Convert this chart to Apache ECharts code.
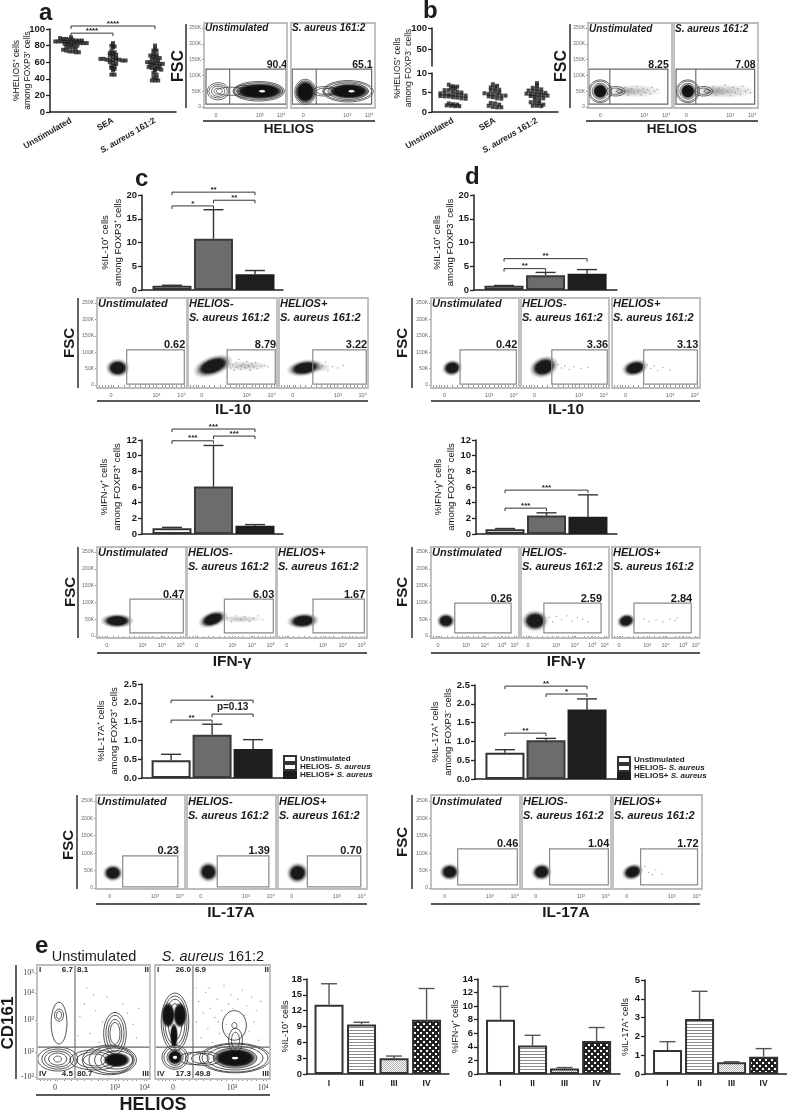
<!DOCTYPE html>
<html><head><meta charset="utf-8">
<style>html,body{margin:0;padding:0;background:#fff}#c{width:787px;height:1112px}</style>
<script src="https://cdn.jsdelivr.net/npm/echarts@6/dist/echarts.min.js"></script>
</head><body><div id="c"></div>
<script>
// ---------- swarm panel values ----------
const swarmCats = ['Unstimulated','SEA','S. aureus 161:2'];
const helPosUnstim = [90,89,88,88,87,87,86,86,86,85,85,85,85,84,84,84,84,83,83,83,82,82,81,81,80,78,78,78,76,75,74,73,73,72,72];
const helPosSEA = [83,80,79,78,74,72,71,70,69,68,67,65,64,64,63,63,63,63,63,62,62,60,59,58,55,55,53,52,50,45,45];
const helPosSA = [80,76,74,74,70,69,68,67,66,65,64,63,62,60,60,59,59,58,58,57,57,55,55,54,53,52,52,51,50,47,45,42,41,38,38,38];
const helNegUnstim = [7,6.6,6.5,6.3,6.1,5.6,5.6,5.4,5.2,5,4.8,4.7,4.5,4.5,4.4,4.3,4.2,4.1,4,4,3.8,3.7,3.5,3.4,2.2,2,1.9,1.7,1.6,1.5,1.5];
const helNegSEA = [7.1,6.7,6.3,6.2,5.7,5.5,5.4,5,4.8,4.6,4.5,4.4,4.2,4.2,4,3.8,3.5,3.4,2.3,2.2,1.9,1.6,1.3,1.2,1.2];
const helNegSA = [7.4,6.8,6.2,6,5.8,5.5,5.4,5.2,5,4.9,4.7,4.6,4.5,4.4,4.3,4.2,4.1,3.9,3.7,3.5,3.2,2.8,2.5,2.4,2.2,1.9,1.6,1.6,1.5];
// ---------- bar panel values ----------
const condNames = ['Unstimulated','HELIOS- S. aureus','HELIOS+ S. aureus'];
const il10Pos = [0.9,10.8,3.3],  il10PosErr = [1.0,16.9,4.1];
const il10Neg = [0.9,3.1,3.4],   il10NegErr = [0.95,3.7,4.3];
const ifnPos = [0.75,6.05,1.05], ifnPosErr = [0.85,11.3,1.2];
const ifnNeg = [0.6,2.35,2.2],   ifnNegErr = [0.7,2.7,5.0];
const il17Pos = [0.47,1.15,0.77],il17PosErr = [0.63,1.43,1.02];
const il17Neg = [0.7,1.03,1.85], il17NegErr = [0.78,1.08,2.13];
const quadCats = ['I','II','III','IV'];
const quadIl10 = [13.1,9.4,3.0,10.3],  quadIl10Err = [17.1,9.8,3.4,16.2];
const quadIfn = [8,4.2,0.8,4.85],      quadIfnErr = [12.9,5.7,0.95,6.85];
const quadIl17 = [1.27,2.93,0.62,0.92],quadIl17Err = [1.72,4.4,0.65,1.35];
// brackets: from category, to category, height, label
const brIl10Pos = [[1,3,20.6,'**'],[1,2,17.7,'*'],[2,3,18.9,'**']];
const brIl10Neg = [[1,3,6.6,'**'],[1,2,4.5,'**']];
const brIfnPos = [[1,3,13.4,'***'],[1,2,11.9,'***'],[2,3,12.5,'***']];
const brIfnNeg = [[1,3,5.6,'***'],[1,2,3.3,'***']];
const brIl17Pos = [[1,3,2.07,'*'],[1,2,1.54,'**'],[2,3,1.70,'p=0.13']];
const brIl17Neg = [[1,3,2.47,'**'],[2,3,2.26,'*'],[1,2,1.22,'**']];
// ---------- flow plot density outlines: x, y, rx, ry, tilt, kind ----------
// kinds: 0 contour, 1 dense with halo, 2 sparse events, 3 empty core, 4 dense
const flowA1=[[17,50,13,27,0,0],[17,50,11,21,0,0],[17,50,8,16,0,0],[17,50,5,9.5,0,0],[32,50,17,13,0,0],[47,50,11,19,0,0],[47,50,7,13,0,0],[47,50,3.5,6,0,0],[66,50,31,31,0,0],[66,50,29,27,0,0],[67,50,24,21,0,4],[70,50,3.6,3,0,3]];
const flowA2=[[17,48,12.5,40,0,0],[17,48,11,35,0,0],[17,48,9.5,29,0,4],[40,50,15,15,0,0],[40,50,9.5,10,0,0],[48,50,10,10,0,0],[68,50,30,34,0,0],[68,50,28,30,0,0],[68,50,24,26,0,0],[69,50,20,20,0,4],[72,50,3.5,3,0,3]];
const flowB1=[[56,50,28,18,0,2],[44,50,12,13,0,2],[14.5,50,13.7,36,0,0],[14.5,50,12,32,0,0],[14.5,50,9.5,25,0,0],[14.5,50,7,19,0,4],[33,50,11,15,0,0],[33,50,7,10,0,0],[38,50,4,5,0,0]];
const flowB2=[[60,50,32,20,0,2],[48,50,14,15,0,2],[16.5,50,13.7,36,0,0],[16.5,50,12,32,0,0],[16.5,50,9.5,25,0,0],[16.5,50,7,19,0,4],[35,50,11,15,0,0],[35,50,7,10,0,0],[40,50,4,5,0,0]];
const flowIl10PosA=[[23,52,7.5,16,0,1]];
const flowIl10PosB=[[64,58,24,13,0,2],[28,58,13,17,-20,1]];
const flowIl10PosC=[[46,54,10,12,0,2],[29,52,11.5,14,-10,1]];
const flowIl10NegA=[[24,52,6.5,14,-10,1]];
const flowIl10NegB=[[26,55,9.5,18,-20,1]];
const flowIl10NegC=[[26,52,8.5,14,-15,1]];
const flowIfnPosA=[[22.5,45,10.5,12,0,1]];
const flowIfnPosB=[[60,50,22,9,0,2],[29,50,9.5,13,-20,1]];
const flowIfnPosC=[[29,45,10,13,-5,1]];
const flowIfnNegA=[[17,45,6,13,0,1]];
const flowIfnNegB=[[16,45,8.5,18,0,1]];
const flowIfnNegC=[[16,45,6,12,-15,1]];
const flowIl17PosA=[[19,43,6.5,14,0,1]];
const flowIl17PosB=[[24,46,6.5,17,-30,1]];
const flowIl17PosC=[[22,43,7,17,-20,1]];
const flowIl17NegA=[[21,46,6.5,14,0,1]];
const flowIl17NegB=[[22,46,6.5,14,-10,1]];
const flowIl17NegC=[[22,46,7,13,-20,1]];
const flowE1=[[18.3,17.5,17.7,10.5,0,0],[18.3,17.5,14,8.8,0,0],[18.3,17.5,11.5,7,0,0],[18.3,17.5,8,5.3,0,0],[18.3,17.5,3.5,2.6,0,0],[51,16.7,22,8.8,0,0],[51,16.7,16,7,0,0],[51,16.7,10,5.3,0,0],[64,16.7,24,13,0,0],[66,16.7,20,12,0,0],[68,16.7,17,10.5,0,0],[70.5,16.7,14,8,0,0],[70.5,16.7,9.7,5.3,0,4],[19.5,49,7,18.4,0,0],[19.5,56,4,5.3,0,0],[19.5,56,2.2,3.5,0,0],[69,40,10,18.4,0,0],[69,40,8,15.8,0,0],[69,40,6,12.3,0,0],[69,40,4.4,9.6,0,0]];
const flowE2=[[17.4,50,12,25.4,0,0],[17.4,50,10.4,22.8,0,0],[17.4,50,8.7,20,0,0],[17.4,50,6,16,0,0],[11.5,56,4.6,9,0,4],[21.7,56,4.6,9,0,4],[16.5,38,2.6,9,0,4],[17.4,19,11.3,10.5,0,0],[17.4,19,9.6,8.8,0,0],[17.4,19,7,7,0,0],[17.4,19,5.2,5.3,0,4],[17.4,19,1.7,1.3,0,3],[34,18,13,5.3,0,0],[42,18,15.6,6,0,0],[42,18,10.4,4.4,0,0],[69,47,10.4,13,0,0],[69,47,2.2,2.6,0,0],[70,34,6,10.5,0,0],[70,34,3.5,7,0,0],[69.6,18.4,31,13,0,0],[69.6,18.4,28.7,12.3,0,0],[69.6,18.4,24.3,10.5,0,0],[69.6,18.4,19,8.8,0,0],[69.6,18.4,15.6,7,0,4],[69.6,18.4,2.6,1,0,3]];
// sparse events outside the dense populations: x, y
const dotsB1=[[44,62],[48,38],[52,58],[55,44],[58,66],[60,50],[63,38],[66,60],[68,46],[71,56],[74,42],[76,62],[79,50],[82,56]];
const dotsB2=[[46,64],[50,36],[54,60],[58,42],[61,70],[64,50],[67,36],[70,62],[73,46],[76,58],[79,40],[82,66],[85,50],[88,56],[91,46]];
const dotsIl10PosB=[[45,70],[48,52],[50,62],[52,45],[54,68],[55,55],[57,78],[59,48],[60,60],[62,66],[64,52],[66,72],[68,58],[70,45],[72,64],[74,55],[76,68],[78,50],[82,58],[86,60],[90,56]];
const dotsIl10PosC=[[43,66],[46,48],[49,58],[52,70],[55,44],[60,56],[66,52],[72,60]];
const dotsIl10NegB=[[42,62],[46,52],[50,58],[55,48],[60,56],[68,50],[76,54]];
const dotsIl10NegC=[[40,62],[44,50],[48,58],[52,44],[58,54],[66,46]];
const dotsIfnPosB=[[45,55],[50,42],[55,60],[60,48],[65,58],[70,44],[75,52],[80,60],[85,48]];
const dotsIfnNegB=[[32,55],[36,42],[40,58],[46,48],[52,60],[58,44],[64,55],[70,50],[76,42]];
const dotsIfnNegC=[[36,50],[42,44],[50,48],[58,42],[66,50],[72,46],[74,54]];
const dotsIl17NegC=[[36,62],[40,45],[44,38],[48,52],[55,40]];
const dotsE1=[[38,55],[42,66],[47,40],[52,60],[55,32],[58,50],[62,72],[44,80],[80,58],[85,48],[90,62],[36,38],[50,74],[88,36],[76,66]];
const dotsE2=[[36,50],[38,68],[40,36],[42,58],[44,76],[46,44],[48,62],[50,32],[52,54],[54,70],[56,40],[58,60],[60,82],[62,48],[64,66],[66,74],[68,62],[72,70],[76,78],[78,56],[80,64],[82,42],[84,72],[86,50],[88,60],[90,34],[47,80],[55,50],[92,68],[36,80]];
// axis tick positions and their labels
const ticks4 = [[14.5,'0'],[67,'10³'],[93,'10⁴']];
const ticksRow4 = [[15.5,'0'],[66,'10³'],[94,'10⁴']];
const ticksIfnPos = [[11,'0'],[51,'10³'],[73,'10⁴'],[94,'10⁵']];
const ticksIfnNeg = [[8,'0'],[40,'10³'],[61,'10⁴'],[81,'10⁵'],[95,'10⁶']];
const minorTicks = [3,6,9,12,18,24,30,36,42,48,54,58,62,72,76,80,84,88,97];
const fscTicks = [0,50,100,150,200,250];
const cdTicks = [[1.75,'-10²'],[23.7,'10²'],[51.8,'10³'],[75.4,'10⁴'],[93,'10⁵']];
const eTicks1 = [[16,'0'],[69,'10³'],[95,'10⁴']];
const eTicks2 = [[15.7,'0'],[67,'10³'],[94,'10⁴']];

// ---------- helpers ----------
const FONT = '"Liberation Sans", Arial, sans-serif';
const INK = '#222';
const option = {animation:false, backgroundColor:'#fff', textStyle:{fontFamily:FONT}, grid:[], xAxis:[], yAxis:[], series:[], legend:[], graphic:{elements:[]}};
const G = option.graphic.elements;
function T(text,x,y,o){o=o||{};
  G.push({type:'text',x:x,y:y,rotation:o.rot||0,silent:true,z:20,style:{text:text,fill:o.color||'#1a1a1a',fontFamily:o.family||FONT,fontSize:o.size||10,fontWeight:o.bold===false?'normal':'bold',fontStyle:o.italic?'italic':'normal',align:o.align||'left',verticalAlign:'middle',lineHeight:o.lh,rich:o.rich}});}
function L(x1,y1,x2,y2,w){G.push({type:'line',silent:true,z:20,shape:{x1,y1,x2,y2},style:{stroke:'#222',lineWidth:w||1.3}});}
function addGrid(box,xa,ya){const i=option.grid.length;
  option.grid.push({left:box[0],top:box[1],width:box[2]-box[0],height:box[3]-box[1],containLabel:false,show:false});
  option.xAxis.push(Object.assign({gridIndex:i,type:'value',splitLine:{show:false}},xa));
  option.yAxis.push(Object.assign({gridIndex:i,type:'value',splitLine:{show:false}},ya));
  return i;}
const axisLine={show:true,onZero:false,lineStyle:{color:INK,width:1.5}};
const tickOut={show:true,length:4,lineStyle:{color:INK,width:1.3}};
function catText(n){return n.replace('S. aureus','{i|S. aureus}');}
const italicRich={i:{fontStyle:'italic',fontWeight:'bold',fontSize:8.5,fontFamily:FONT,color:'#222'}};

function swarm(values,center,step,bin){
  const rows={};values.forEach(v=>{const k=Math.round(v/bin);(rows[k]=rows[k]||[]).push(v);});
  const out=[];Object.keys(rows).forEach(k=>{const r=rows[k];r.forEach((v,i)=>{out.push([center+(i-(r.length-1)/2)*step,v]);});});
  return out;}
function swarmSeries(i,groups,bin,step){
  groups.forEach((g,k)=>option.series.push({type:'scatter',xAxisIndex:i,yAxisIndex:i,symbol:'rect',symbolSize:4,itemStyle:{color:'#1a1a1a'},data:swarm(g,k+1,step,bin),silent:true}));}

function errorSeries(i,xs,vals,errs,cap,color,w){
  option.series.push({type:'custom',xAxisIndex:i,yAxisIndex:i,silent:true,z:1,data:xs.map((x,k)=>[x,vals[k],errs[k]]),
    renderItem:(p,api)=>{const a=api.coord([api.value(0),api.value(1)]),b=api.coord([api.value(0),api.value(2)]);
      const st={stroke:color,lineWidth:w,fill:null};
      return {type:'group',children:[{type:'line',shape:{x1:a[0],y1:a[1],x2:b[0],y2:b[1]},style:st},{type:'line',shape:{x1:b[0]-cap/2,y1:b[1],x2:b[0]+cap/2,y2:b[1]},style:st}]};}});}
function bracketSeries(i,list){
  option.series.push({type:'custom',xAxisIndex:i,yAxisIndex:i,silent:true,z:3,data:list.map(b=>[b[0],b[2],b[1]]),
    renderItem:(p,api)=>{const a=api.coord([api.value(0),api.value(1)]),b=api.coord([api.value(2),api.value(1)]);
      const s=list[p.dataIndex][3],st={stroke:'#333',lineWidth:1,fill:null};const big=s.length>4;
      return {type:'group',children:[
        {type:'polyline',shape:{points:[[a[0],a[1]+3],[a[0],a[1]],[b[0],b[1]],[b[0],b[1]+3]]},style:st},
        {type:'text',style:{x:(a[0]+b[0])/2,y:big?a[1]-7:a[1]-2.5,text:s,align:'center',verticalAlign:'middle',fill:'#222',font:big?'bold 10px "Liberation Sans"':'bold 8px "Liberation Sans"'}}]};}});}

const BAR_WHITE={color:'#fff',borderColor:'#333',borderWidth:2};
const BAR_GREY={color:'#6c6c6c',borderColor:'#3a3a3a',borderWidth:2};
const BAR_BLACK={color:'#1f1d1e',borderColor:'#1f1d1e',borderWidth:2};
function condBars(c){
  const i=addGrid(c.box,{min:c.xr[0],max:c.xr[1],axisLine:axisLine,axisTick:{show:false},axisLabel:{show:false}},
    {min:0,max:c.ymax,interval:c.interval,axisLine:axisLine,axisTick:tickOut,
     axisLabel:{fontSize:9.5,fontWeight:'bold',color:'#1a1a1a',margin:5,formatter:c.fmt},
     name:c.name,nameLocation:'middle',nameGap:c.gap,nameRotate:90,nameMoveOverlap:false,nameTextStyle:{fontSize:9.5,color:'#111',lineHeight:13,fontWeight:'normal'}});
  const styles=[BAR_WHITE,BAR_GREY,BAR_BLACK];
  condNames.forEach((n,k)=>option.series.push({type:'bar',name:n,xAxisIndex:i,yAxisIndex:i,barWidth:39,barGap:'-100%',silent:true,itemStyle:styles[k],z:2,data:[[k+1,c.vals[k]]]}));
  errorSeries(i,[1,2,3],c.vals,c.errs,20,'#333',1.4);
  bracketSeries(i,c.br);
  if(c.legend){option.legend.push({left:c.legend[0],top:c.legend[1],orient:'vertical',icon:'rect',itemWidth:12,itemHeight:6,itemGap:0,padding:0,selectedMode:false,
    data:[{name:condNames[0],itemStyle:BAR_WHITE},{name:condNames[1],itemStyle:BAR_WHITE},{name:condNames[2],itemStyle:BAR_BLACK}],
    formatter:catText,textStyle:{fontSize:8,fontWeight:'bold',color:'#222',lineHeight:8,padding:[0,0,0,-1],rich:{i:{fontSize:8,fontStyle:'italic',fontWeight:'bold',color:'#222',fontFamily:FONT}}}});}
}
function pattern(size,draw){const cv=document.createElement('canvas');cv.width=cv.height=size;draw(cv.getContext('2d'));return {image:cv,repeat:'repeat'};}
const FILL_LINES=pattern(3,g=>{g.fillStyle='#fff';g.fillRect(0,0,3,3);g.fillStyle='#8d8d8d';g.fillRect(0,1,3,1);});
const FILL_FINE=pattern(2,g=>{g.fillStyle='#fff';g.fillRect(0,0,2,2);g.fillStyle='#b0b0b0';g.fillRect(0,0,1,1);g.fillRect(1,1,1,1);});
const FILL_CHECK=pattern(6,g=>{g.fillStyle='#222';g.fillRect(0,0,6,6);g.fillStyle='#fff';g.fillRect(0,0,2,2);g.fillRect(3,3,2,2);});
function quadBars(c){
  const pos=[1,2,3,4];
  const i=addGrid(c.box,{min:c.xr[0],max:c.xr[1],axisLine:axisLine,axisTick:{show:false},
      axisLabel:{customValues:pos,formatter:v=>quadCats[v-1],fontSize:8.5,fontWeight:'bold',color:'#222',margin:5}},
    {min:0,max:c.ymax,interval:c.interval,axisLine:axisLine,axisTick:tickOut,axisLabel:{fontSize:9.5,fontWeight:'bold',color:'#1a1a1a',margin:5},
     name:c.name,nameLocation:'middle',nameGap:c.gap,nameRotate:90,nameMoveOverlap:false,nameTextStyle:{fontSize:9,color:'#111',fontWeight:'normal'}});
  const fills=['#fff',FILL_LINES,FILL_FINE,FILL_CHECK];
  option.series.push({type:'bar',xAxisIndex:i,yAxisIndex:i,barWidth:29,silent:true,z:2,
    data:pos.map((x,k)=>({value:[x,c.vals[k]],itemStyle:{color:fills[k],borderColor:'#333',borderWidth:2}}))});
  errorSeries(i,pos,c.vals,c.errs,16,'#555',1.4);
}
function ellipse(c,rx,ry,rot,grow){const n=36,out=[],t=rot*Math.PI/180,cs=Math.cos(t),sn=Math.sin(t);
  for(let k=0;k<n;k++){const a=k/n*2*Math.PI,x=rx*grow*Math.cos(a),y=ry*grow*Math.sin(a);out.push([c[0]+x*cs-y*sn,c[1]+x*sn+y*cs]);}
  return out;}
function softLayers(c,s,rot,grows,alphas,tone){
  return grows.map((g,k)=>({type:'polygon',shape:{points:ellipse(c,s[0],s[1],rot,g)},style:{fill:'rgba('+tone+','+tone+','+tone+','+alphas[k]+')',shadowBlur:1.5,shadowColor:'rgba('+tone+','+tone+','+tone+','+alphas[k]+')'}}));}
function blobSeries(i,blobs,lw){
  option.series.push({type:'custom',xAxisIndex:i,yAxisIndex:i,silent:true,clip:true,data:blobs,
    renderItem:(p,api)=>{const d=[api.value(0),api.value(1)],c=api.coord(d),s=api.size([api.value(2),api.value(3)],d),rot=api.value(4),kind=api.value(5);
      const pts=ellipse(c,s[0],s[1],rot,1);
      if(kind===0)return {type:'polygon',shape:{points:pts},style:{fill:null,stroke:'#2a2a2a',lineWidth:lw}};
      if(kind===2)return {type:'group',children:softLayers(c,s,rot,[1.1,0.9,0.65,0.4],[0.07,0.09,0.12,0.14],120)};
      if(kind===3)return {type:'polygon',shape:{points:pts},style:{fill:'#fff',shadowBlur:1,shadowColor:'#fff'}};
      if(kind===4)return {type:'group',children:softLayers(c,s,rot,[1.2,1.08,0.96,0.8],[0.3,0.45,0.7,0.95],18)};
      return {type:'group',children:softLayers(c,s,rot,[1.75,1.55,1.36,1.2,1.06,0.9],[0.1,0.16,0.25,0.4,0.65,0.95],25)};}});}
function dotSeries(i,dots){if(dots)option.series.push({type:'scatter',xAxisIndex:i,yAxisIndex:i,silent:true,symbol:'circle',symbolSize:1.3,itemStyle:{color:'#777'},data:dots});}
function tickAxis(list,extra){return {min:0,max:100,axisLine:{show:false},
    axisTick:{show:true,customValues:list.map(t=>t[0]).concat(extra||[]),length:2,lineStyle:{color:'#666',width:0.7}},
    axisLabel:{customValues:list.map(t=>t[0]),formatter:v=>(list.find(t=>t[0]===v)||[0,''])[1],fontSize:5.5,color:'#666',margin:4}};}
function flow(c){
  const y=c.yr||[-5,265];
  const i=addGrid(c.box,tickAxis(c.ticks,minorTicks),{min:y[0],max:y[1],axisLine:{show:false},
    axisTick:{show:!!c.first,customValues:fscTicks,length:2,lineStyle:{color:'#666',width:0.7}},
    axisLabel:{show:!!c.first,customValues:fscTicks,formatter:v=>v?v+'K':'0',fontSize:5,color:'#666',margin:3}});
  blobSeries(i,c.blobs,0.7);
  dotSeries(i,c.dots);
  const g=c.gate,lab=c.label;
  option.series.push({type:'custom',xAxisIndex:i,yAxisIndex:i,silent:true,data:[[g[0],g[1],g[2],g[3],g[4]||0]],
    renderItem:(p,api)=>{const a=api.coord([api.value(0),api.value(1)]),b=api.coord([api.value(2),api.value(3)]);const sp=api.value(4);
      const ch=[{type:'rect',shape:{x:a[0],y:b[1],width:b[0]-a[0],height:a[1]-b[1]},style:{fill:null,stroke:sp?'#666':'#8a8a8a',lineWidth:1.2}},
        {type:'text',style:{x:b[0]+1,y:b[1]+1,text:lab,align:'right',verticalAlign:'bottom',fill:'#1a1a1a',font:'bold '+(c.labelSize||11)+'px "Liberation Sans"'}}];
      if(sp){const s=api.coord([sp,api.value(1)]);ch.push({type:'line',shape:{x1:s[0],y1:a[1],x2:s[0],y2:b[1]},style:{stroke:'#555',lineWidth:1}});}
      return {type:'group',children:ch};}});
  G.push({type:'rect',silent:true,z:10,shape:{x:c.box[0],y:c.box[1],width:c.box[2]-c.box[0],height:c.box[3]-c.box[1]},style:{fill:null,stroke:'#bcbcbc',lineWidth:1.8}});
  const ts=c.titleSize||11,ty=c.titleY;
  c.title.forEach((t,k)=>T(t,c.box[0]+1,ty+k*14,{size:ts,italic:true}));
}
const UN=['Unstimulated'],HN=['HELIOS-','S. aureus 161:2'],HP=['HELIOS+','S. aureus 161:2'];

// ---------- panel a ----------
const catAxis={min:0.5,max:3.5,axisLine:axisLine,axisTick:{show:false},
  axisLabel:{customValues:[1,2,3],formatter:v=>catText(swarmCats[v-1]),rotate:30,fontSize:8.5,fontWeight:'bold',color:'#222',margin:8,rich:italicRich}};
const ia=addGrid([50,29,176,112],catAxis,{min:0,max:100,interval:20,axisLine:axisLine,axisTick:tickOut,
  axisLabel:{fontSize:9.5,fontWeight:'bold',color:'#1a1a1a',margin:5},
  name:'%HELIOS⁺ cells\namong FOXP3⁺ cells',nameLocation:'middle',nameGap:17,nameRotate:90,nameMoveOverlap:false,nameTextStyle:{fontSize:8.5,lineHeight:11,color:'#111'}});
swarmSeries(ia,[helPosUnstim,helPosSEA,helPosSA],3.5,0.075);
bracketSeries(ia,[[1,3,103.6,'****'],[1,2,95,'****']]);
flow({box:[204,23,287,108],first:true,ticks:ticks4,yr:[-3,266],blobs:flowA1,gate:[2.4,9.5,99,120,31],label:'90.4',labelSize:10.5,title:UN,titleSize:10,titleY:28});
flow({box:[291,23,375,108],ticks:ticks4,yr:[-3,266],blobs:flowA2,gate:[1.5,9.5,96,120,30],label:'65.1',labelSize:10.5,title:['S. aureus 161:2'],titleSize:10,titleY:28});
T('a',39,13,{size:24});
L(186,24,186,108,1.4);L(203,121,375,121,1.4);
T('FSC',179,66,{size:16,rot:Math.PI/2,align:'center'});
T('HELIOS',289,129,{size:13.5,align:'center'});

// ---------- panel b ----------
const ibU=addGrid([432,28,558,66],{min:0.5,max:3.5,show:false},{min:10,max:100,axisLine:axisLine,
  axisTick:{show:true,customValues:[50,100],length:4,lineStyle:{color:INK,width:1.3}},
  axisLabel:{customValues:[50,100],fontSize:9.5,fontWeight:'bold',color:'#1a1a1a',margin:5}});
const ibL=addGrid([432,73,558,112],catAxis,{min:0,max:10,interval:5,axisLine:axisLine,axisTick:tickOut,axisLabel:{fontSize:9.5,fontWeight:'bold',color:'#1a1a1a',margin:5}});
swarmSeries(ibL,[helNegUnstim,helNegSEA,helNegSA],0.75,0.1);
T('%HELIOS⁺ cells\namong FOXP3⁻ cells',403,68,{size:8.5,rot:Math.PI/2,align:'center',bold:false,lh:11});
flow({box:[588,23,672,108],first:true,ticks:ticks4,yr:[-3,266],blobs:flowB1,dots:dotsB1,gate:[1,9.5,95,120,26],label:'8.25',labelSize:10.5,title:UN,titleSize:10,titleY:29});
flow({box:[674,23,758,108],ticks:ticks4,yr:[-3,266],blobs:flowB2,dots:dotsB2,gate:[2.4,9.5,96,120,26],label:'7.08',labelSize:10.5,title:['S. aureus 161:2'],titleSize:10,titleY:29});
T('b',423,11,{size:24});
L(570,24,570,108,1.4);L(586,121,758,121,1.4);
T('FSC',562,66,{size:16,rot:Math.PI/2,align:'center'});
T('HELIOS',672,129,{size:13.5,align:'center'});

// ---------- panels c and d: bars ----------
condBars({box:[142,195,283,290],xr:[0.277,3.675],ymax:20,interval:5,vals:il10Pos,errs:il10PosErr,br:brIl10Pos,name:'%IL-10⁺ cells\namong FOXP3⁺ cells',gap:17});
condBars({box:[474,195,617,290],xr:[0.277,3.72],ymax:20,interval:5,vals:il10Neg,errs:il10NegErr,br:brIl10Neg,name:'%IL-10⁺ cells\namong FOXP3⁻ cells',gap:17});
condBars({box:[142,440,283,534],xr:[0.277,3.675],ymax:12,interval:2,vals:ifnPos,errs:ifnPosErr,br:brIfnPos,name:'%IFN-γ⁺ cells\namong FOXP3⁺ cells',gap:18});
condBars({box:[476,440,617,534],xr:[0.30,3.70],ymax:12,interval:2,vals:ifnNeg,errs:ifnNegErr,br:brIfnNeg,name:'%IFN-γ⁺ cells\namong FOXP3⁻ cells',gap:18});
condBars({box:[142,684,283,778],xr:[0.29,3.73],ymax:2.5,interval:0.5,fmt:v=>v.toFixed(1),vals:il17Pos,errs:il17PosErr,br:brIl17Pos,name:'%IL-17A⁺ cells\namong FOXP3⁺ cells',gap:21,legend:[283,755]});
condBars({box:[475,685,617,779],xr:[0.27,3.73],ymax:2.5,interval:0.5,fmt:v=>v.toFixed(1),vals:il17Neg,errs:il17NegErr,br:brIl17Neg,name:'%IL-17A⁺ cells\namong FOXP3⁻ cells',gap:20,legend:[617,756]});
T('c',135,179,{size:24});T('d',465,177,{size:24});

// ---------- panels c and d: flow rows ----------
flow({box:[97,298,187,388],first:true,ticks:ticksRow4,yr:[-9,265],blobs:flowIl10PosA,gate:[33,3,97,107],label:'0.62',title:UN,titleY:304});
flow({box:[188,298,277,388],ticks:ticksRow4,yr:[-9,265],blobs:flowIl10PosB,dots:dotsIl10PosB,gate:[44,3,98,107],label:'8.79',title:HN,titleY:304});
flow({box:[279,298,368,388],ticks:ticksRow4,yr:[-9,265],blobs:flowIl10PosC,dots:dotsIl10PosC,gate:[38,3,98,107],label:'3.22',title:HP,titleY:304});
flow({box:[431,298,519,388],first:true,ticks:ticksRow4,yr:[-9,265],blobs:flowIl10NegA,gate:[33,3,97,107],label:'0.42',title:UN,titleY:304});
flow({box:[521,298,609,388],ticks:ticksRow4,yr:[-9,265],blobs:flowIl10NegB,dots:dotsIl10NegB,gate:[35,3,98,107],label:'3.36',title:HN,titleY:304});
flow({box:[612,298,700,388],ticks:ticksRow4,yr:[-9,265],blobs:flowIl10NegC,dots:dotsIl10NegC,gate:[36,3,97,107],label:'3.13',title:HP,titleY:304});
flow({box:[97,547,186,638],first:true,ticks:ticksIfnPos,yr:[-6,265],blobs:flowIfnPosA,gate:[37,9,97,110],label:'0.47',title:UN,titleY:553});
flow({box:[187,547,276,638],ticks:ticksIfnPos,yr:[-6,265],blobs:flowIfnPosB,dots:dotsIfnPosB,gate:[42,9,97,110],label:'6.03',title:HN,titleY:553});
flow({box:[277,547,367,638],ticks:ticksIfnPos,yr:[-6,265],blobs:flowIfnPosC,gate:[40,9,97,110],label:'1.67',title:HP,titleY:553});
flow({box:[431,547,519,638],first:true,ticks:ticksIfnNeg,yr:[-6,265],blobs:flowIfnNegA,gate:[27,9,91,98],label:'0.26',title:UN,titleY:553});
flow({box:[521,547,609,638],ticks:ticksIfnNeg,yr:[-6,265],blobs:flowIfnNegB,dots:dotsIfnNegB,gate:[26,9,91,98],label:'2.59',title:HN,titleY:553});
flow({box:[612,547,700,638],ticks:ticksIfnNeg,yr:[-6,265],blobs:flowIfnNegC,dots:dotsIfnNegC,gate:[25,9,90,98],label:'2.84',title:HP,titleY:553});
flow({box:[96,795,185,889],first:true,ticks:ticksRow4,yr:[-3,267],blobs:flowIl17PosA,gate:[30,3,92,92],label:'0.23',title:UN,titleY:802});
flow({box:[187,795,276,889],ticks:ticksRow4,yr:[-3,267],blobs:flowIl17PosB,gate:[34,3,92,92],label:'1.39',title:HN,titleY:802});
flow({box:[278,795,367,889],ticks:ticksRow4,yr:[-3,267],blobs:flowIl17PosC,gate:[33,3,93,92],label:'0.70',title:HP,titleY:802});
flow({box:[431,795,520,889],first:true,ticks:ticksRow4,yr:[-3,267],blobs:flowIl17NegA,gate:[30,9,97,112],label:'0.46',title:UN,titleY:802});
flow({box:[522,795,611,889],ticks:ticksRow4,yr:[-3,267],blobs:flowIl17NegB,gate:[31,9,97,112],label:'1.04',title:HN,titleY:802});
flow({box:[613,795,702,889],ticks:ticksRow4,yr:[-3,267],blobs:flowIl17NegC,dots:dotsIl17NegC,gate:[31,9,95,112],label:'1.72',title:HP,titleY:802});
[[78,298,388,70,343,97,368,401,233,410,'IL-10'],[412,298,388,403,343,431,700,401,566,410,'IL-10'],
 [78,547,638,71,592,97,367,653,232,662,'IFN-γ'],[412,547,638,403,592,431,700,653,566,662,'IFN-γ'],
 [77,795,889,69,845,96,367,904,231,913,'IL-17A'],[412,795,889,403,842,431,700,904,566,913,'IL-17A']].forEach(r=>{
  L(r[0],r[1],r[0],r[2],1.4);L(r[5],r[7],r[6],r[7],1.4);
  T('FSC',r[3],r[4],{size:15,rot:Math.PI/2,align:'center'});
  T(r[10],r[8],r[9],{size:15.5,align:'center'});
});

// ---------- panel e: flow ----------
function quadFlow(c){
  const y=tickAxis(cdTicks);
  const i=addGrid(c.box,tickAxis(c.ticks,minorTicks),Object.assign(y,{axisTick:Object.assign(y.axisTick,{show:!!c.first}),axisLabel:Object.assign(y.axisLabel,{show:!!c.first,fontSize:8,fontFamily:'"Liberation Serif"',color:'#444',margin:3})}));
  option.xAxis[i].axisLabel.fontSize=8;option.xAxis[i].axisLabel.fontFamily='"Liberation Serif"';option.xAxis[i].axisLabel.color='#444';option.xAxis[i].axisLabel.margin=5;
  blobSeries(i,c.blobs,0.8);dotSeries(i,c.dots);
  const q=c.quads;
  option.series.push({type:'custom',xAxisIndex:i,yAxisIndex:i,silent:true,data:[[c.split[0],c.split[1]]],
    renderItem:(p,api)=>{const s=api.coord([api.value(0),api.value(1)]),g=p.coordSys;
      const st={stroke:'#666',lineWidth:1.1,fill:null},F='bold 8px "Liberation Sans"';
      const t=(x,yy,text,al)=>({type:'text',style:{x,y:yy,text,align:al,verticalAlign:'middle',fill:'#222',font:F}});
      const top=g.y+5,bot=g.y+g.height-5;
      return {type:'group',children:[
        {type:'line',shape:{x1:s[0],y1:g.y,x2:s[0],y2:g.y+g.height},style:st},{type:'line',shape:{x1:g.x,y1:s[1],x2:g.x+g.width,y2:s[1]},style:st},
        t(g.x+2,top,'I','left'),t(s[0]-2,top,q[0],'right'),t(s[0]+2,top,q[1],'left'),t(g.x+g.width-1,top,'II','right'),
        t(g.x+2,bot,'IV','left'),t(s[0]-2,bot,q[2],'right'),t(s[0]+2,bot,q[3],'left'),t(g.x+g.width-1,bot,'III','right')]};}});
  G.push({type:'rect',silent:true,z:10,shape:{x:c.box[0],y:c.box[1],width:c.box[2]-c.box[0],height:c.box[3]-c.box[1]},style:{fill:null,stroke:'#bcbcbc',lineWidth:1.8}});
}
quadFlow({box:[37,965,150,1079],first:true,ticks:eTicks1,blobs:flowE1,dots:dotsE1,split:[33.6,28],quads:['6.7','8.1','4.5','80.7']});
quadFlow({box:[155,965,270,1079],ticks:eTicks2,blobs:flowE2,dots:dotsE2,split:[33,28],quads:['26.0','6.9','17.3','49.8']});
T('e',35,946,{size:24});
T('Unstimulated',94,957,{size:14.5,bold:false,align:'center'});
T('{i|S. aureus} 161:2',213,957,{size:14.5,bold:false,align:'center',rich:{i:{fontStyle:'italic',fontSize:14.5,fontFamily:FONT,fill:'#1a1a1a'}}});
L(16,965,16,1079,1.4);L(36,1095,270,1095,1.4);
T('CD161',8,1023,{size:17,rot:Math.PI/2,align:'center'});
T('HELIOS',153,1105,{size:18,align:'center'});

// ---------- panel e: bars ----------
quadBars({box:[307,979,449,1074],xr:[0.323,4.69],ymax:18,interval:3,vals:quadIl10,errs:quadIl10Err,name:'%IL-10⁺ cells',gap:17});
quadBars({box:[478,979,620,1074],xr:[0.297,4.73],ymax:14,interval:2,vals:quadIfn,errs:quadIfnErr,name:'%IFN-γ⁺ cells',gap:18});
quadBars({box:[645,980,787,1074],xr:[0.297,4.73],ymax:5,interval:1,vals:quadIl17,errs:quadIl17Err,name:'%IL-17A⁺ cells',gap:15});

const chart=echarts.init(document.getElementById('c'),null,{renderer:'canvas',width:787,height:1112});
chart.setOption(option);
</script></body></html>
